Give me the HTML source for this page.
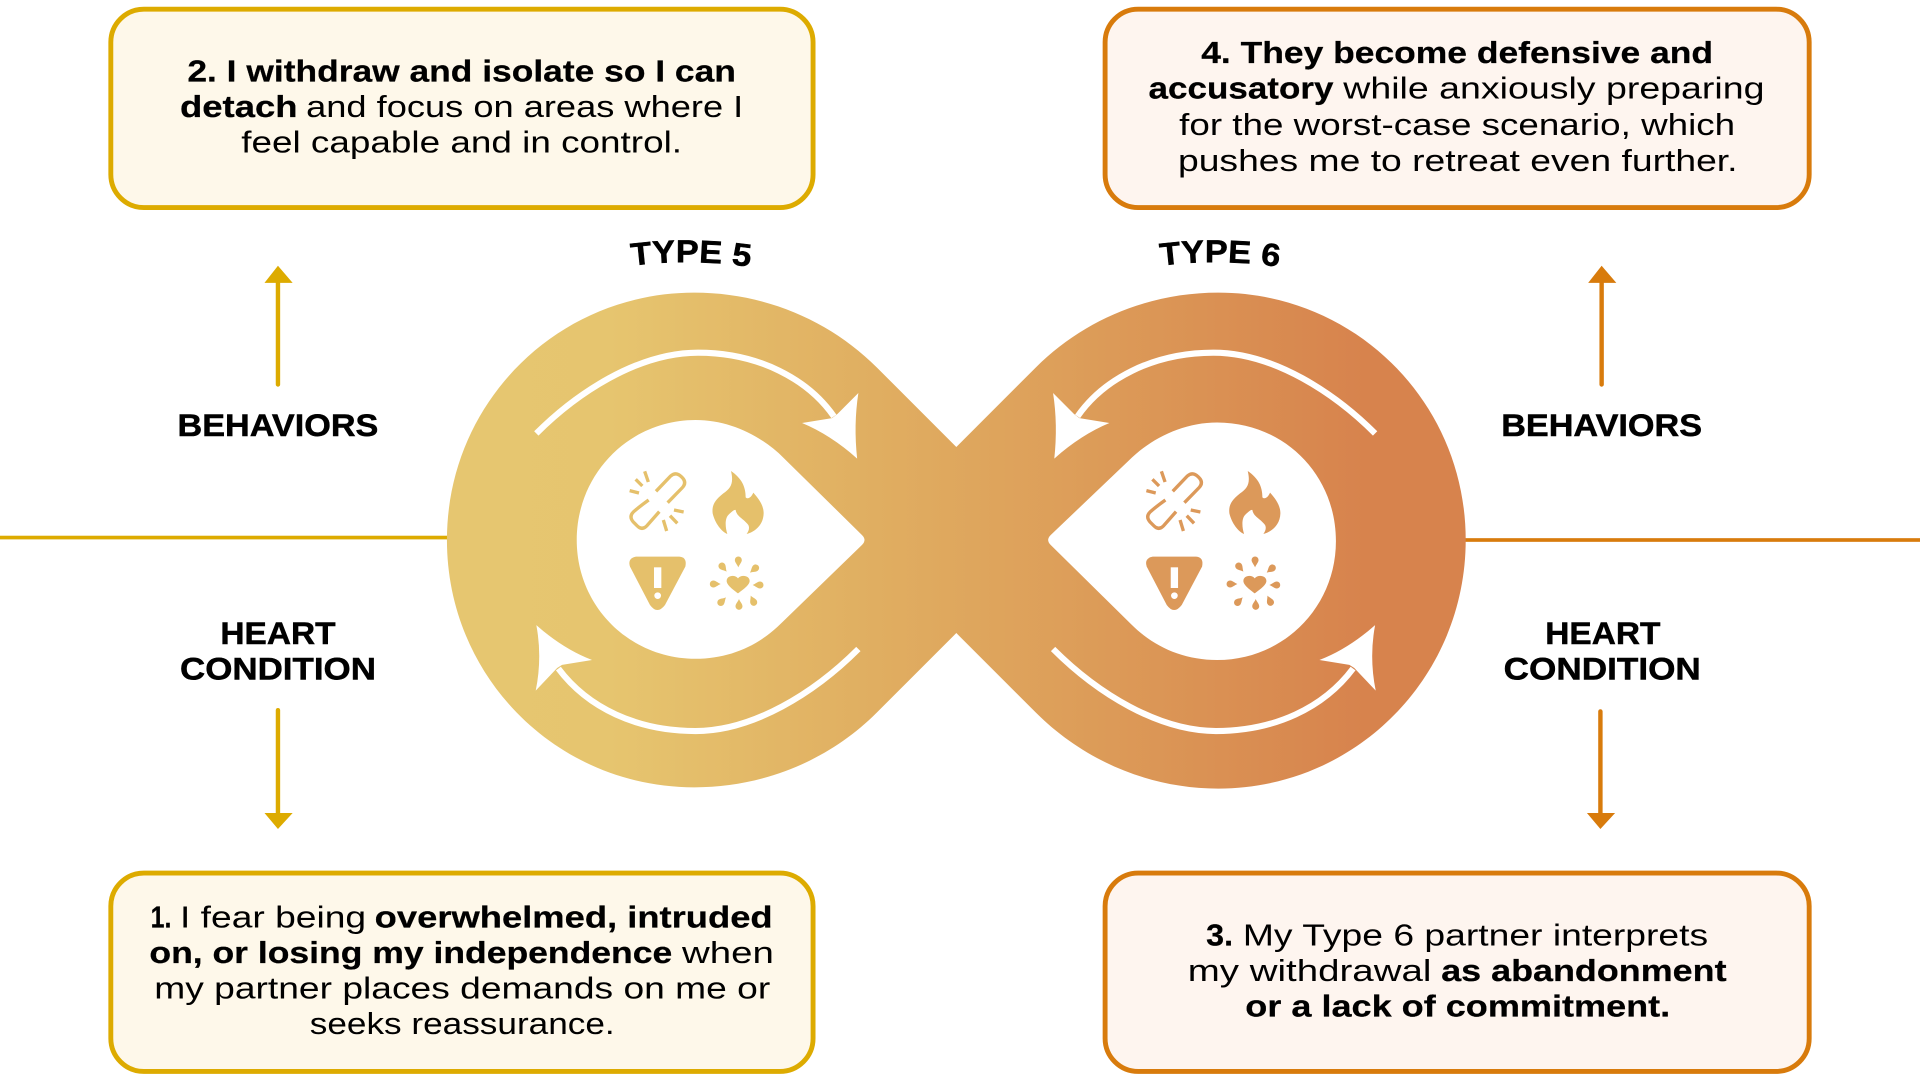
<!DOCTYPE html>
<html lang="en">
<head>
<meta charset="utf-8">
<title>Type 5 and Type 6 cycle</title>
<style>
html,body{margin:0;padding:0;background:#fff;width:1920px;height:1080px;overflow:hidden}
svg{display:block}
text{font-family:"Liberation Sans",sans-serif;fill:#000;font-size:25px}
.b{font-weight:700;stroke:#000;stroke-width:.2px}
.h{font-weight:700;font-size:26px;stroke:#000;stroke-width:.4px}
</style>
</head>
<body>
<svg xmlns="http://www.w3.org/2000/svg" width="1920" height="1080" viewBox="0 0 1568 882">
<defs>
<linearGradient id="g" gradientUnits="userSpaceOnUse" x1="365" y1="0" x2="1197" y2="0">
<stop offset="0" stop-color="#e6c670"/>
<stop offset=".16" stop-color="#e6c56f"/>
<stop offset=".42" stop-color="#e0ae61"/>
<stop offset=".6" stop-color="#dd9f5a"/>
<stop offset=".9" stop-color="#d7834d"/>
<stop offset="1" stop-color="#d7834d"/>
</linearGradient>
<path id="d" d="M0,0 C-3,-8 -10,-14 -10,-21 A10,10 0 1 1 10,-21 C10,-14 3,-8 0,0Z"/>
<g id="icons">
<g fill="none" stroke="currentColor" stroke-width="10">
<path d="M168,124 L212,78 Q228,64 244,80 L246,82 Q262,98 246,114 L203,158"/>
<path d="M146,150 Q118,170 100,186 Q86,200 100,216 L112,228 Q126,242 140,228 L178,185"/>
<path d="M89,122 L117,129 M107,88 L127,108 M134,64 L145,96 M222,180 L251,186 M190,210 L200,243 M210,197 L232,220"/>
</g>
<path fill="currentColor" d="M393,63 C402,100 392,115 370,130 C345,150 335,165 338,190 C345,220 365,245 382,252 C375,230 375,205 385,195 C395,185 403,178 407,180 C410,200 430,205 445,225 C450,235 445,245 440,252 C465,245 490,225 491,190 C491,165 475,145 460,128 C455,140 445,150 437,142 C437,110 425,85 393,63 Z"/>
<path fill="currentColor" d="M108,320 L238,320 Q262,322 256,350 L195,465 Q172,495 150,465 L90,350 Q82,325 108,320 Z"/>
<rect x="162" y="352" width="22" height="62" fill="#fff"/>
<circle cx="173" cy="437" r="10" fill="#fff"/>
<path fill="currentColor" d="M414,430 C400,420 380,405 380,393 C380,376 405,373 414,385 C423,373 449,376 449,393 C449,405 428,420 414,430 Z"/>
<g fill="currentColor">
<use href="#d" transform="translate(415,352) scale(1.05)"/>
<use href="#d" transform="translate(450,368) rotate(50) scale(1.05)"/>
<use href="#d" transform="translate(458,405) rotate(90) scale(1.05)"/>
<use href="#d" transform="translate(452,437) rotate(155) scale(1.05)"/>
<use href="#d" transform="translate(417,447) rotate(180) scale(1.05)"/>
<use href="#d" transform="translate(378,442) rotate(225) scale(1.05)"/>
<use href="#d" transform="translate(362,402) rotate(270) scale(1.05)"/>
<use href="#d" transform="translate(380,365) rotate(-40) scale(1.05)"/>
</g>
</g>
<g id="arrows">
<path fill="none" stroke="#fff" stroke-width="5" d="M438,354 C470,322 520,288 570,288 C620,288 660,310 681,340"/>
<path fill="#fff" d="M701,321 Q697,347 700,374.5 Q678,355 655,345.5 L679.5,341.5 L684,338 Z"/>
<path fill="none" stroke="#fff" stroke-width="5" d="M701,530 C665,566 615,597 568,597 C520,597 480,578 456,546"/>
<path fill="#fff" d="M438,510.5 Q443,537 437.5,564 L455,545.5 L459,543 L483.5,539 Q460,530 438,510.5 Z"/>
</g>
<path id="tl" d="M516,217 Q563,211 613,218"/>
<path id="tr" d="M948,217 Q995,211 1045,218"/>
</defs>

<!-- horizontal rules -->
<rect x="0" y="437.5" width="370" height="3" fill="#ddab00"/>
<rect x="1192" y="439.5" width="376" height="3" fill="#d87b0c"/>

<!-- boxes -->
<rect x="90.5" y="7.5" width="573.5" height="162" rx="27" fill="#fef8ea" stroke="#ddab00" stroke-width="4"/>
<rect x="902.5" y="7.5" width="575" height="162" rx="27" fill="#fef5ef" stroke="#d87b0c" stroke-width="4"/>
<rect x="90.5" y="713" width="573.5" height="162" rx="27" fill="#fef8ea" stroke="#ddab00" stroke-width="4"/>
<rect x="902.5" y="713" width="575" height="162" rx="27" fill="#fef5ef" stroke="#d87b0c" stroke-width="4"/>

<g transform="translate(0,-.4)">
<!-- box 2 -->
<text class="b" x="153" y="67" textLength="448" lengthAdjust="spacingAndGlyphs">2. I withdraw and isolate so I can</text>
<text class="b" x="147" y="96" textLength="96" lengthAdjust="spacingAndGlyphs">detach</text>
<text x="250" y="96" textLength="357" lengthAdjust="spacingAndGlyphs">and focus on areas where I</text>
<text x="197" y="125" textLength="360" lengthAdjust="spacingAndGlyphs">feel capable and in control.</text>

<!-- box 4 -->
<text class="b" x="981" y="52" textLength="418" lengthAdjust="spacingAndGlyphs">4. They become defensive and</text>
<text class="b" x="938" y="81" textLength="151" lengthAdjust="spacingAndGlyphs">accusatory</text>
<text x="1097" y="81" textLength="344" lengthAdjust="spacingAndGlyphs">while anxiously preparing</text>
<text x="963" y="110.5" textLength="454" lengthAdjust="spacingAndGlyphs">for the worst-case scenario, which</text>
<text x="962" y="140" textLength="457" lengthAdjust="spacingAndGlyphs">pushes me to retreat even further.</text>

<!-- box 1 -->
<text class="b" x="123" y="758" textLength="17" lengthAdjust="spacingAndGlyphs">1.</text>
<text x="147" y="758" textLength="152" lengthAdjust="spacingAndGlyphs">I fear being</text>
<text class="b" x="306" y="758" textLength="325" lengthAdjust="spacingAndGlyphs">overwhelmed, intruded</text>
<text class="b" x="122" y="787" textLength="427" lengthAdjust="spacingAndGlyphs">on, or losing my independence</text>
<text x="557" y="787" textLength="75" lengthAdjust="spacingAndGlyphs">when</text>
<text x="126" y="816" textLength="503" lengthAdjust="spacingAndGlyphs">my partner places demands on me or</text>
<text x="253" y="845" textLength="249" lengthAdjust="spacingAndGlyphs">seeks reassurance.</text>

<!-- box 3 -->
<text class="b" x="985" y="772.5" textLength="22" lengthAdjust="spacingAndGlyphs">3.</text>
<text x="1015" y="772.5" textLength="380" lengthAdjust="spacingAndGlyphs">My Type 6 partner interprets</text>
<text x="970" y="801.5" textLength="199" lengthAdjust="spacingAndGlyphs">my withdrawal</text>
<text class="b" x="1177" y="801.5" textLength="233" lengthAdjust="spacingAndGlyphs">as abandonment</text>
<text class="b" x="1017" y="830.5" textLength="347" lengthAdjust="spacingAndGlyphs">or a lack of commitment.</text>
</g>

<!-- side labels -->
<text class="h" x="145" y="356" textLength="164" lengthAdjust="spacingAndGlyphs">BEHAVIORS</text>
<text class="h" x="180" y="526" textLength="94" lengthAdjust="spacingAndGlyphs">HEART</text>
<text class="h" x="147" y="555" textLength="160" lengthAdjust="spacingAndGlyphs">CONDITION</text>
<text class="h" x="1226" y="356" textLength="164" lengthAdjust="spacingAndGlyphs">BEHAVIORS</text>
<text class="h" x="1262" y="526" textLength="94" lengthAdjust="spacingAndGlyphs">HEART</text>
<text class="h" x="1228" y="555" textLength="161" lengthAdjust="spacingAndGlyphs">CONDITION</text>

<!-- vertical arrows -->
<g stroke-width="3.6" stroke-linecap="round">
<path d="M227,228 V314" stroke="#ddab00"/>
<path d="M227,580 V666" stroke="#ddab00"/>
<path d="M1308,228 V314" stroke="#d87b0c"/>
<path d="M1307,581 V666" stroke="#d87b0c"/>
</g>
<path fill="#ddab00" d="M216,231 L227,217 L239,231 Z M216,664 L239,664 L227,677 Z"/>
<path fill="#d87b0c" d="M1297,231 L1308,217 L1320,231 Z M1296,664 L1319,664 L1307,677 Z"/>

<!-- type labels -->
<text class="h" textLength="97" lengthAdjust="spacingAndGlyphs"><textPath href="#tl">TYPE 5</textPath></text>
<text class="h" textLength="97" lengthAdjust="spacingAndGlyphs"><textPath href="#tr">TYPE 6</textPath></text>

<!-- infinity -->
<path fill="url(#g)" fill-rule="evenodd" d="M781,365 L716,300 C678,262 625,239 567,239 C455,239 365,329 365,441 C365,553 455,643 567,643 C625,643 678,620 716,582 L781,517 L846,582 C884,620 937,644 995,644 C1107,644 1197,553 1197,441 C1197,329 1107,239 995,239 C937,239 884,262 846,300 Z
M704,437 L640,374 C622,356 596,343 568,343 C514,343 471,387 471,441 C471,495 514,538 568,538 C596,538 620,527 638,509 L704,445 Q708,441 704,437 Z
M858,437 L922,376 C940,358 966,345 994,345 C1048,345 1091,387 1091,442 C1091,496 1048,539 994,539 C966,539 942,528 924,510 L858,445 Q854,441 858,437 Z"/>

<use href="#arrows"/>
<use href="#arrows" transform="matrix(-1 0 0 1 1561 0)"/>

<use href="#icons" transform="translate(490,367.5) scale(.2722)" color="#e5c06b"/>
<use href="#icons" transform="translate(912,367.5) scale(.2722)" color="#dc995a"/>
</svg>
</body>
</html>
